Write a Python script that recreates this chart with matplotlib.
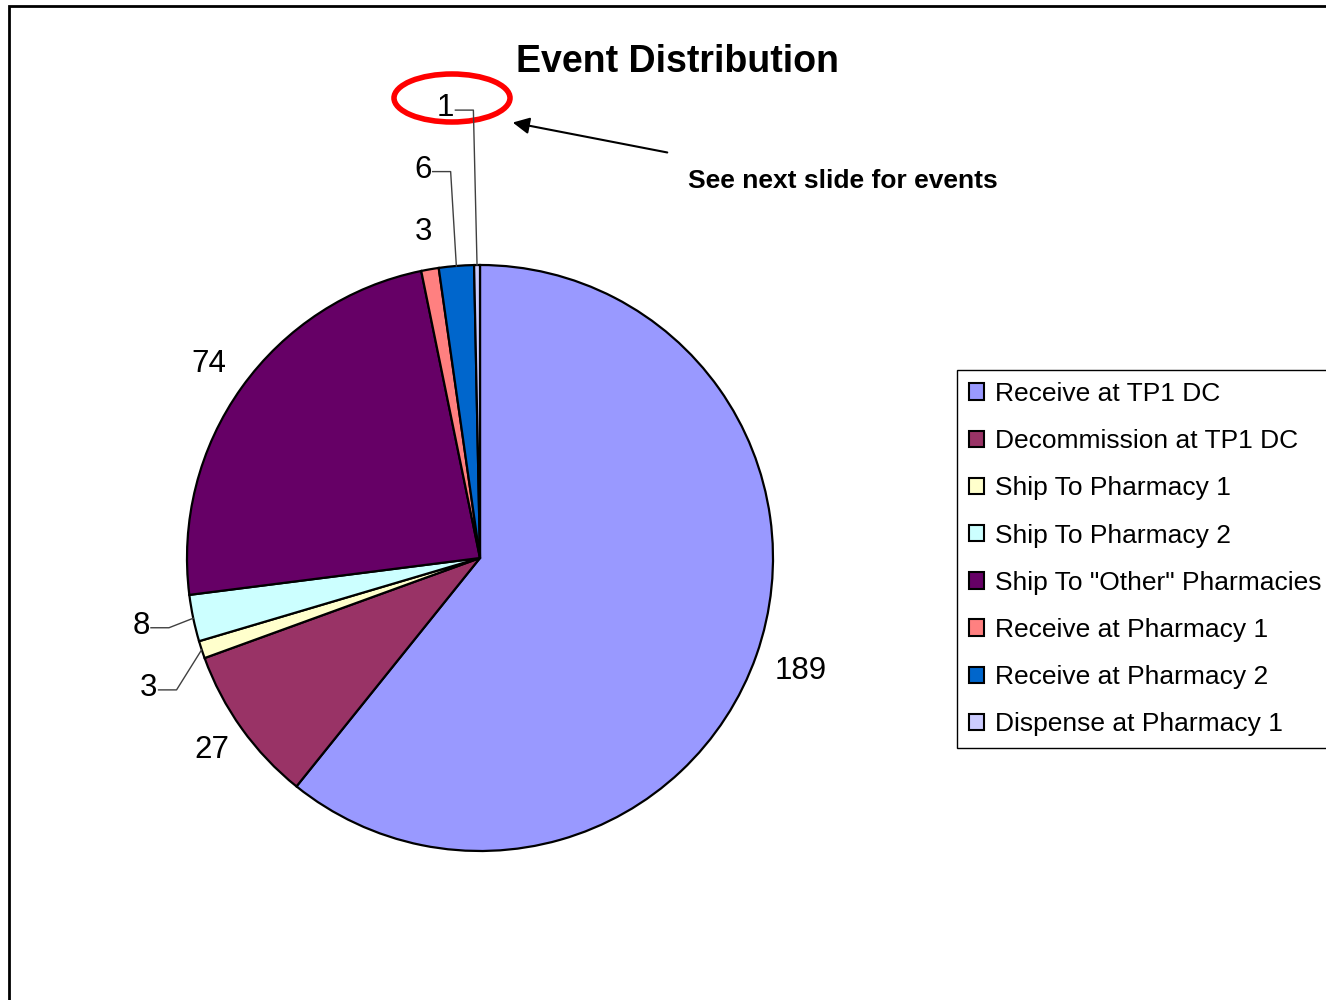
import numpy as np
import matplotlib.pyplot as plt
from matplotlib.patches import Rectangle, Ellipse

plt.rcParams['font.family'] = ['Liberation Sans', 'DejaVu Sans']

# data
events = ['Receive at TP1 DC', 'Decommission at TP1 DC', 'Ship To Pharmacy 1',
          'Ship To Pharmacy 2', 'Ship To "Other" Pharmacies', 'Receive at Pharmacy 1',
          'Receive at Pharmacy 2', 'Dispense at Pharmacy 1']
counts = [189, 27, 3, 8, 74, 3, 6, 1]
colors = ['#9999FF', '#993366', '#FFFFCC', '#CCFFFF', '#660066', '#FF8080', '#0066CC', '#CCCCFF']

# label layout (radius factor, angle override, leader line)
label_r = [1.16, 1.125, 1.215, 1.18, 1.137, 1.13, 1.34, 1.54]
label_ang = [None, None, -158.6, -168.7, None, None, 98.4, 94.4]
leader = [False, False, True, True, False, False, True, True]

fig = plt.figure(figsize=(13.26, 10), dpi=100)
ax = fig.add_axes([0, 0, 1, 1])
cx, cy, R = 480, 442, 293
wedges, _ = ax.pie(counts, colors=colors, startangle=90, counterclock=False,
                   center=(cx, cy), radius=R,
                   wedgeprops=dict(edgecolor='black', linewidth=1.6))
ax.set_xlim(0, 1326)
ax.set_ylim(0, 1000)
ax.axis('off')

for i, w in enumerate(wedges):
    mid = (w.theta1 + w.theta2) / 2
    ang = label_ang[i] if label_ang[i] is not None else mid
    lx = cx + label_r[i] * R * np.cos(np.radians(ang))
    ly = cy + label_r[i] * R * np.sin(np.radians(ang))
    ax.text(lx, ly, str(counts[i]), ha='center', va='center', fontsize=22.5)
    if leader[i]:
        ex = cx + R * np.cos(np.radians(mid))
        ey = cy + R * np.sin(np.radians(mid))
        ax.plot([lx + 10, lx + 28, ex], [ly - 2, ly - 2, ey], color='#404040', lw=1)

# title and note
ax.text(677, 1000 - 62, 'Event Distribution', ha='center', va='center',
        fontsize=27, weight='bold')
ax.text(843, 1000 - 181, 'See next slide for events', ha='center', va='center',
        fontsize=19, weight='bold')
ax.annotate('', xy=(510, 1000 - 122), xytext=(670, 1000 - 153),
            arrowprops=dict(arrowstyle='-|>', color='black', lw=1.5, mutation_scale=25))
ax.add_patch(Ellipse((452, 1000 - 98), 116, 48, fill=False, edgecolor='red', lw=4))

# slide border
ax.add_patch(Rectangle((9, -20), 1400, 1014, fill=False, edgecolor='black', lw=2))

handles = [Rectangle((0, 0), 1, 1, facecolor=c, edgecolor='black', lw=1.5) for c in colors]
leg = fig.legend(handles, events, loc='upper left', bbox_to_anchor=(957 / 1326, 1 - 370 / 1000),
                 borderaxespad=0, fontsize=19, frameon=True, fancybox=False,
                 edgecolor='black', framealpha=1, handlelength=0.58, handleheight=0.58,
                 handletextpad=0.4, labelspacing=0.88, borderpad=0.45)
leg.get_frame().set_linewidth(1)

fig.savefig('out.png', dpi=100)
